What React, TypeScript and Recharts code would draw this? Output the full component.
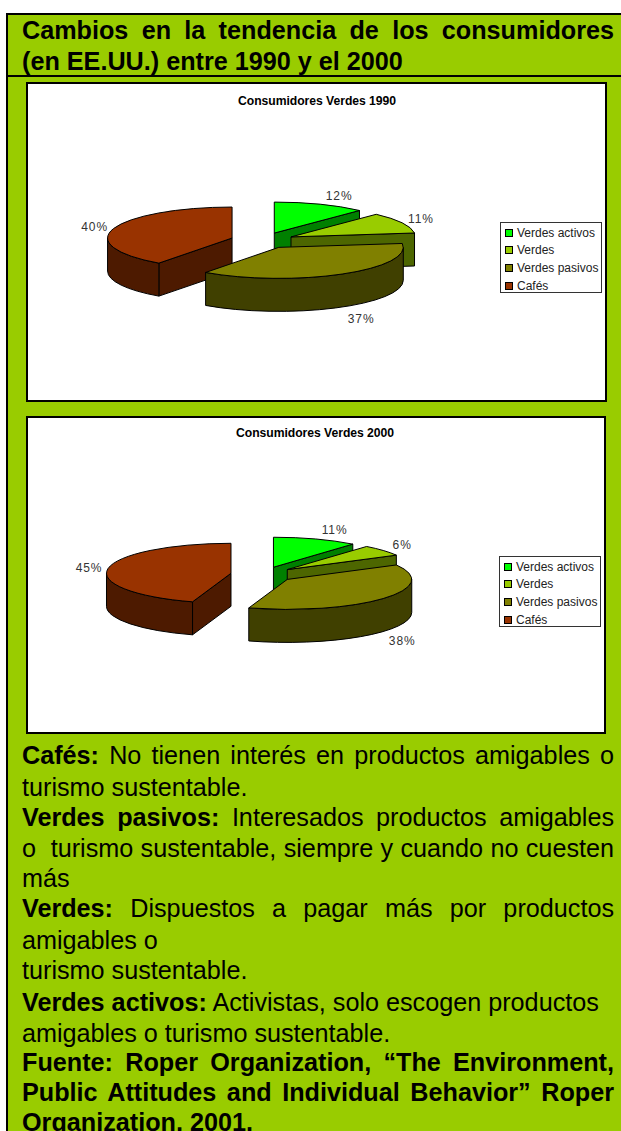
import React from 'react';
import { PieChart, Pie, Legend } from 'recharts';

const CATEGORIES = ['Verdes activos', 'Verdes', 'Verdes pasivos', 'Cafés'];
const VALUES_1990 = [12, 11, 37, 40];
const VALUES_2000 = [11, 6, 38, 45];
const COLORS = ['#00FF00', '#99CC00', '#808000', '#993300'];
const WALLS = ['#008000', '#4D6600', '#404000', '#4D1A00'];
// Cafés gets painted first so the Verdes pasivos slice sits on top of it
const PAINT_ORDER = [3, 0, 1, 2];

const HEADER_LINES = [
  { text: 'Cambios en la tendencia de los consumidores', top: 16, justify: true },
  { text: '(en EE.UU.) entre 1990 y el 2000', top: 47, justify: false },
];

const BODY_LINES = [
  { bold: 'Cafés:', text: ' No tienen interés en productos amigables o', top: 741, justify: true },
  { bold: '', text: 'turismo sustentable.', top: 773, justify: false },
  { bold: 'Verdes pasivos:', text: ' Interesados productos amigables', top: 803, justify: true },
  { bold: '', text: 'o  turismo sustentable, siempre y cuando no cuesten', top: 834, justify: true },
  { bold: '', text: 'más', top: 864, justify: false },
  { bold: 'Verdes:', text: ' Dispuestos a pagar más por productos', top: 894, justify: true },
  { bold: '', text: 'amigables o', top: 926, justify: false },
  { bold: '', text: 'turismo sustentable.', top: 956, justify: false },
  { bold: 'Verdes activos:', text: ' Activistas, solo escogen productos', top: 988, justify: false },
  { bold: '', text: 'amigables o turismo sustentable.', top: 1019, justify: false },
  { bold: 'Fuente: Roper Organization, “The Environment,', text: '', top: 1048, justify: true },
  { bold: 'Public Attitudes and Individual Behavior” Roper', text: '', top: 1078, justify: true },
  { bold: 'Organization, 2001.', text: '', top: 1108, justify: false },
];

const FONT = '"Liberation Sans", Arial, sans-serif';
const RX = 124.5;
const EXPLODE = 32;
const DEPTH = 33;
const RAD = Math.PI / 180;

// projects pie angle onto the flattened ellipse
const makeShape = (ry: number) => (props: any) => {
  const { cx, cy, startAngle, endAngle, midAngle, fill } = props;
  const ax = cx + EXPLODE * Math.cos(midAngle * RAD);
  const ay = cy - (EXPLODE * ry * Math.sin(midAngle * RAD)) / RX;
  const px = (a: number) => ax + RX * Math.cos(a * RAD);
  const py = (a: number) => ay - ry * Math.sin(a * RAD);
  const wall = WALLS[COLORS.indexOf(fill)];

  const radial = (a: number) =>
    `M${ax},${ay}L${px(a)},${py(a)}L${px(a)},${py(a) + DEPTH}L${ax},${ay + DEPTH}Z`;

  const arc = (from: number, to: number, dy: number, sweep: number) =>
    `A${RX},${ry} 0 ${Math.abs(from - to) > 180 ? 1 : 0} ${sweep} ${px(to)},${py(to) + dy}`;

  // front wall covers the part of the arc facing the viewer
  const walls: string[] = [];
  for (const [lo, hi] of [[180, 360], [-180, 0]]) {
    const from = Math.min(startAngle, hi);
    const to = Math.max(endAngle, lo);
    if (from > to) {
      walls.push(
        `M${px(from)},${py(from)}${arc(from, to, 0, 1)}L${px(to)},${py(to) + DEPTH}${arc(to, from, DEPTH, 0)}Z`
      );
    }
  }

  return (
    <g>
      {Math.cos(endAngle * RAD) > 0.001 && <path d={radial(endAngle)} fill={wall} stroke="#000" />}
      {Math.cos(startAngle * RAD) < -0.001 && <path d={radial(startAngle)} fill={wall} stroke="#000" />}
      {walls.map((d) => (
        <path key={d} d={d} fill={wall} stroke="#000" />
      ))}
      <path
        d={`M${ax},${ay}L${px(startAngle)},${py(startAngle)}${arc(startAngle, endAngle, 0, 1)}Z`}
        fill={fill}
        stroke="#000"
      />
    </g>
  );
};

const makeLabel = (ry: number) => (props: any) => {
  const { cx, cy, midAngle, value } = props;
  const c = Math.cos(midAngle * RAD);
  const s = Math.sin(midAngle * RAD);
  const x = cx + (EXPLODE + RX) * c + (c >= 0 ? 19 : -19);
  const y = cy - ((EXPLODE + RX) * ry * s) / RX + (s < 0 ? DEPTH + 1 : 0) - 11 * s + 1.5;
  return (
    <text
      x={x}
      y={y}
      textAnchor="middle"
      dominantBaseline="central"
      fontFamily={FONT}
      fontSize={12}
      letterSpacing={0.9}
      fill="#333"
    >
      {value}%
    </text>
  );
};

const LegendBox = ({ payload }: any) => (
  <div
    style={{
      boxSizing: 'border-box',
      width: 102,
      height: 71,
      border: '1px solid #333',
      background: '#fff',
      paddingTop: 1,
      fontFamily: FONT,
      fontSize: 12,
      color: '#222',
    }}
  >
    {(payload || []).map((entry: any) => (
      <div key={entry.value} style={{ display: 'flex', alignItems: 'center', height: 17.6, lineHeight: '16px' }}>
        <span
          style={{
            display: 'inline-block',
            width: 6,
            height: 6,
            border: '1px solid #000',
            background: entry.color,
            margin: '0 4.5px 0 3.5px',
          }}
        />
        <span style={{ whiteSpace: 'nowrap' }}>{entry.value}</span>
      </div>
    ))}
  </div>
);

type ChartProps = {
  title: string;
  values: number[];
  top: number;
  left: number;
  width: number;
  height: number;
  cx: number;
  cy: number;
  ry: number;
  titleX: number;
  titleY: number;
  legendX: number;
  legendY: number;
};

const ConsumerPie = ({ title, values, top, left, width, height, cx, cy, ry, titleX, titleY, legendX, legendY }: ChartProps) => {
  const rows = PAINT_ORDER.map((i) => ({ name: CATEGORIES[i], value: values[i], fill: COLORS[i] }));
  // first painted slice is Cafés, which ends at 12 o'clock
  const start = 90 + (rows[0].value / values.reduce((a, b) => a + b, 0)) * 360;
  return (
    <div
      style={{
        position: 'absolute',
        top,
        left,
        width,
        height,
        background: '#fff',
        outline: '2px solid #000',
        outlineOffset: -1,
      }}
    >
      <PieChart width={width} height={height} margin={{ top: 0, right: 0, bottom: 0, left: 0 }}>
        <text
          x={titleX}
          y={titleY}
          textAnchor="middle"
          dominantBaseline="central"
          fontFamily={FONT}
          fontSize={12.2}
          fontWeight={700}
          letterSpacing={-0.05}
          fill="#000"
        >
          {title}
        </text>
        <Pie
          data={rows}
          dataKey="value"
          nameKey="name"
          cx={cx}
          cy={cy}
          outerRadius={RX}
          startAngle={start}
          endAngle={start - 360}
          isAnimationActive={false}
          label={makeLabel(ry)}
          labelLine={false}
          shape={makeShape(ry)}
        />
        <Legend
          layout="vertical"
          itemSorter={(item: any) => CATEGORIES.indexOf(item.value)}
          content={<LegendBox />}
          wrapperStyle={{ left: legendX, top: legendY, width: 102, bottom: 'auto', right: 'auto' }}
        />
      </PieChart>
    </div>
  );
};

const textLine = (justify: boolean): React.CSSProperties => ({
  position: 'absolute',
  left: 22,
  width: 592,
  whiteSpace: 'pre-wrap',
  textAlign: justify ? 'justify' : 'left',
  textAlignLast: justify ? 'justify' : 'left',
  fontFamily: FONT,
  color: '#000',
});

export default function App() {
  return (
    <div style={{ position: 'absolute', top: 0, left: 0, width: 621, height: 1131, overflow: 'hidden', background: '#fff' }}>
      <style>{'body{margin:0}'}</style>
      <div style={{ position: 'absolute', left: 6, top: 13, width: 615, height: 1118, background: '#99CC00', borderLeft: '2px solid #000', borderTop: '2px solid #000', boxSizing: 'border-box' }} />
      <div style={{ position: 'absolute', left: 6, top: 75, width: 615, height: 2, background: '#000' }} />
      {HEADER_LINES.map((l) => (
        <div key={l.text} style={{ ...textLine(l.justify), top: l.top, fontSize: 25.2, lineHeight: '29px', fontWeight: 700 }}>
          {l.text}
        </div>
      ))}
      <ConsumerPie
        title="Consumidores Verdes 1990"
        values={VALUES_1990}
        top={83}
        left={27}
        width={579}
        height={318}
        cx={235.5}
        cy={157.5}
        ry={31}
        titleX={290}
        titleY={18}
        legendX={473}
        legendY={139}
      />
      <ConsumerPie
        title="Consumidores Verdes 2000"
        values={VALUES_2000}
        top={417}
        left={27}
        width={578}
        height={316}
        cx={235.6}
        cy={157.5}
        ry={30}
        titleX={288}
        titleY={16}
        legendX={472}
        legendY={139}
      />
      {BODY_LINES.map((l) => (
        <div key={l.top} style={{ ...textLine(l.justify), top: l.top, fontSize: 25.2, lineHeight: '29px' }}>
          {l.bold && <b>{l.bold}</b>}
          {l.text}
        </div>
      ))}
    </div>
  );
}
